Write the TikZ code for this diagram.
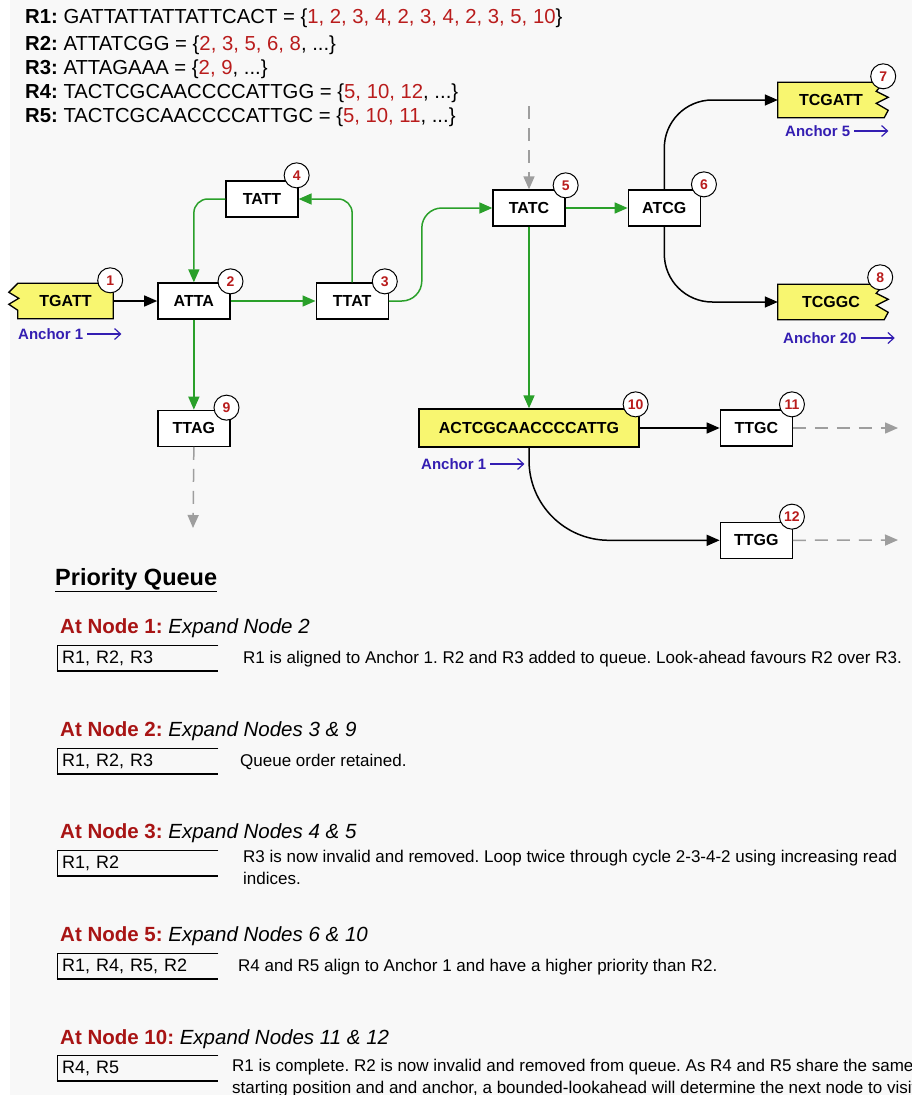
\documentclass[tikz,border=0pt]{standalone}
\usepackage{fontspec}
\setmainfont{Liberation Sans}
\frenchspacing
\usetikzlibrary{arrows.meta,positioning,calc,backgrounds}
\definecolor{lapszin}{RGB}{248,248,248}
\definecolor{zaszlo}{RGB}{248,246,112}
\definecolor{zold}{RGB}{42,160,42}
\definecolor{szampiros}{RGB}{185,28,28}
\definecolor{cimpiros}{RGB}{168,20,20}
\definecolor{horgony}{RGB}{52,30,178}
\definecolor{szurke}{RGB}{158,158,158}
\newcommand{\rd}[1]{\textcolor{szampiros}{#1}}
\newcommand{\fejbetu}{\fontsize{20.3}{24}\selectfont}
\newcommand{\kbetu}{\fontsize{16}{19}\selectfont\bfseries}
\newcommand{\szbetu}{\fontsize{14}{14}\selectfont\bfseries}
\newcommand{\hbetu}{\fontsize{15}{18}\selectfont\bfseries}
\newcommand{\sorbetu}{\fontsize{20.5}{25}\selectfont}
\newcommand{\leirbetu}{\fontsize{17}{22}\selectfont}
\newcommand{\dobozbetu}{\fontsize{18}{20}\selectfont}
% zaszlo alaku csucsok (hatter retegen)
\newcommand{\balzaszlo}[1]{%
  \filldraw[fill=zaszlo,line width=1.3pt,line join=miter] (#1.north east) -- (#1.north west)
    -- ([xshift=-9pt,yshift=-9pt]#1.north west) -- ([xshift=1pt,yshift=-15pt]#1.north west)
    -- ([xshift=-9pt,yshift=-21pt]#1.north west) -- ([yshift=-27pt]#1.north west)
    -- (#1.south west) -- (#1.south east) -- cycle;}
\newcommand{\jobbzaszlo}[1]{%
  \filldraw[fill=zaszlo,line width=1.3pt,line join=miter] (#1.north west) -- (#1.north east)
    -- ([xshift=-8pt,yshift=-9pt]#1.north east) -- ([xshift=4pt,yshift=-15pt]#1.north east)
    -- ([xshift=-8pt,yshift=-21pt]#1.north east) -- ([xshift=4pt,yshift=-28pt]#1.north east)
    -- (#1.south east) -- (#1.south west) -- cycle;}
\newcommand{\sorkeret}[1]{%
  \draw[line width=1pt] (#1.north east) -- (#1.north west) -- (#1.south west);
  \draw[line width=2pt] ([xshift=-0.5pt]#1.south west) -- (#1.south east);}
\tikzset{
  kmer/.style={draw,line width=1.3pt,fill=white,minimum width=72pt,minimum height=36pt,inner sep=2pt,font=\kbetu},
  zasz/.style={minimum width=#1,minimum height=35pt,inner sep=2pt,font=\kbetu},
  sarga/.style={draw,line width=1.3pt,fill=zaszlo,minimum width=220pt,minimum height=38pt,inner sep=2pt,font=\kbetu},
  szam/.style={circle,draw,line width=1pt,fill=white,minimum size=25pt,inner sep=0pt,font=\szbetu,text=szampiros},
  fnyil/.style={-{Triangle[length=13pt,width=11pt]},line width=1.5pt},
  znyil/.style={-{Triangle[length=13pt,width=11pt]},line width=1.5pt,color=zold},
  sznyil/.style={-{Triangle[length=13pt,width=11pt]},line width=1.5pt,color=szurke,dash pattern=on 13pt off 9pt},
  hcimke/.style={anchor=west,inner sep=0pt,font=\hbetu,text=horgony},
  hnyil/.style={-{Straight Barb[length=6pt,width=11pt]},line width=1.2pt,color=horgony},
  fej/.style={anchor=west,inner sep=0pt,font=\fejbetu},
  sorcim/.style={anchor=west,inner sep=0pt,font=\sorbetu},
  sordoboz/.style={anchor=north west,minimum width=161pt,minimum height=26pt,inner xsep=5pt,inner ysep=0pt,
                   text width=151pt,align=left,font=\dobozbetu},
  leiras/.style={anchor=north west,inner sep=0pt,align=left,font=\leirbetu},
}
\begin{document}
\begin{tikzpicture}[x=1pt,y=-1pt]
  \path[use as bounding box,clip] (0,0) rectangle (912,1095);
  \begin{scope}[on background layer]
    \fill[white] (0,0) rectangle (912,1095);
    \fill[lapszin] (10,0) rectangle (912,1095);
  \end{scope}

  % olvasatok
  \node[fej] (r1) at (25,18) {\textbf{R1:} GATTATTATTATTCACT = \{\rd{1, 2, 3, 4, 2, 3, 4, 2, 3, 5, 10}\}};
  \node[fej] (r2) at (25,45) {\textbf{R2:} ATTATCGG = \{\rd{2, 3, 5, 6, 8}, ...\}};
  \node[fej] (r3) at (25,69) {\textbf{R3:} ATTAGAAA = \{\rd{2, 9}, ...\}};
  \node[fej] (r4) at (25,93) {\textbf{R4:} TACTCGCAACCCCATTGG = \{\rd{5, 10, 12}, ...\}};
  \node[fej] (r5) at (25,117) {\textbf{R5:} TACTCGCAACCCCATTGC = \{\rd{5, 10, 11}, ...\}};

  % graf
  \node[zasz=95pt] (n1) at (65.5,301) {TGATT};
  \node[kmer,right=44pt of n1] (n2) {ATTA};
  \node[kmer,right=85pt of n2] (n3) {TTAT};
  \node[kmer] (n4) at (262,199) {TATT};
  \node[kmer] (n5) at (529,208) {TATC};
  \node[kmer,right=62pt of n5] (n6) {ATCG};
  \node[zasz=106pt] (n7) at (831,100) {TCGATT};
  \node[zasz=106pt] (n8) at (831,302) {TCGGC};
  \node[kmer,below=90pt of n2] (n9) {TTAG};
  \node[sarga] (n10) at (529,428) {ACTCGCAACCCCATTG};
  \node[kmer,right=80pt of n10] (n11) {TTGC};
  \node[kmer,below=75pt of n11] (n12) {TTGG};
  \begin{scope}[on background layer]
    \balzaszlo{n1}
    \jobbzaszlo{n7}
    \jobbzaszlo{n8}
  \end{scope}

  \coordinate (be5) at (529,106);
  \coordinate (ki9) at (193,528);
  \coordinate (ki11) at (898,428);
  \coordinate (ki12) at (898,540);

  \draw[fnyil] (n1) -- (n2);
  \draw[znyil] (n2) -- (n3);
  \draw[znyil,rounded corners=14pt] (n3.north) |- (n4.east);
  \draw[znyil,rounded corners=14pt] (n4.west) -| (n2.north);
  \draw[znyil,rounded corners=20pt] (n3.east) -- ++(33,0) |- (n5.west);
  \draw[znyil] (n5) -- (n6);
  \draw[znyil] (n5) -- (n10);
  \draw[znyil] (n2) -- (n9);
  \draw[fnyil,rounded corners=48pt] (n6.north) |- (n7.west);
  \draw[fnyil,rounded corners=48pt] (n6.south) |- (n8.west);
  \draw[fnyil] (n10) -- (n11);
  \draw[fnyil,rounded corners=80pt] (n10.south) |- (n12.west);
  \draw[sznyil] (be5) -- (n5.north);
  \draw[sznyil] (n9.south) -- (ki9);
  \draw[sznyil] (n11.east) -- (ki11);
  \draw[sznyil] (n12.east) -- (ki12);

  \node[szam] (c1) at ([xshift=-3pt,yshift=3pt]n1.north east) {1};
  \node[szam] (c2) at ([xshift=0pt,yshift=1pt]n2.north east) {2};
  \node[szam] (c3) at ([xshift=-4pt,yshift=1pt]n3.north east) {3};
  \node[szam] (c4) at ([xshift=-2pt,yshift=5pt]n4.north east) {4};
  \node[szam] (c5) at ([xshift=0pt,yshift=4pt]n5.north east) {5};
  \node[szam] (c6) at ([xshift=3pt,yshift=5pt]n6.north east) {6};
  \node[szam] (c7) at ([xshift=-1pt,yshift=6pt]n7.north east) {7};
  \node[szam] (c8) at ([xshift=-4pt,yshift=7pt]n8.north east) {8};
  \node[szam] (c9) at ([xshift=-4pt,yshift=2pt]n9.north east) {9};
  \node[szam] (c10) at ([xshift=-4pt,yshift=4pt]n10.north east) {10};
  \node[szam] (c11) at ([xshift=-1pt,yshift=5pt]n11.north east) {11};
  \node[szam] (c12) at ([xshift=-1pt,yshift=5pt]n12.north east) {12};

  % horgonyok
  \node[hcimke] (h1) at (18,334) {Anchor 1};
  \node[hcimke] (h5) at (785,131) {Anchor 5};
  \node[hcimke] (h20) at (783,338) {Anchor 20};
  \node[hcimke] (h10) at (421,464) {Anchor 1};
  \coordinate (h1v) at ([xshift=38pt]h1.east);
  \coordinate (h5v) at ([xshift=38pt]h5.east);
  \coordinate (h20v) at ([xshift=38pt]h20.east);
  \coordinate (h10v) at ([xshift=38pt]h10.east);
  \draw[hnyil] ([xshift=4pt]h1.east) -- (h1v);
  \draw[hnyil] ([xshift=4pt]h5.east) -- (h5v);
  \draw[hnyil] ([xshift=4pt]h20.east) -- (h20v);
  \draw[hnyil] ([xshift=4pt]h10.east) -- (h10v);

  % prioritasi sor
  \node[anchor=west,inner sep=0pt,font=\fontsize{23.5}{26}\selectfont\bfseries] (pq) at (55,580) {\underline{Priority Queue}};

  \node[sorcim] (s1) at (60,628) {\textcolor{cimpiros}{\textbf{At Node 1:}} \textit{Expand Node 2}};
  \node[sordoboz] (q1) at (57,645) {R1, R2, R3};
  \node[leiras] (d1) at (243,651) {R1 is aligned to Anchor 1. R2 and R3 added to queue. Look-ahead favours R2 over R3.};

  \node[sorcim] (s2) at (60,731) {\textcolor{cimpiros}{\textbf{At Node 2:}} \textit{Expand Nodes 3 \& 9}};
  \node[sordoboz] (q2) at (57,748) {R1, R2, R3};
  \node[leiras] (d2) at (240,754) {Queue order retained.};

  \node[sorcim] (s3) at (60,833) {\textcolor{cimpiros}{\textbf{At Node 3:}} \textit{Expand Nodes 4 \& 5}};
  \node[sordoboz] (q3) at (57,850) {R1, R2};
  \node[leiras] (d3) at (243,850) {R3 is now invalid and removed. Loop twice through cycle 2-3-4-2 using increasing read\\indices.};

  \node[sorcim] (s5) at (60,936) {\textcolor{cimpiros}{\textbf{At Node 5:}} \textit{Expand Nodes 6 \& 10}};
  \node[sordoboz] (q5) at (57,953) {R1, R4, R5, R2};
  \node[leiras] (d5) at (238,959) {R4 and R5 align to Anchor 1 and have a higher priority than R2.};

  \node[sorcim] (s10) at (60,1039) {\textcolor{cimpiros}{\textbf{At Node 10:}} \textit{Expand Nodes 11 \& 12}};
  \node[sordoboz] (q10) at (57,1055) {R4, R5};
  \node[leiras] (d10) at (232,1059) {R1 is complete. R2 is now invalid and removed from queue. As R4 and R5 share the same\\starting position and and anchor, a bounded-lookahead will determine the next node to visit.};

  \sorkeret{q1}
  \sorkeret{q2}
  \sorkeret{q3}
  \sorkeret{q5}
  \sorkeret{q10}
\end{tikzpicture}
\end{document}
